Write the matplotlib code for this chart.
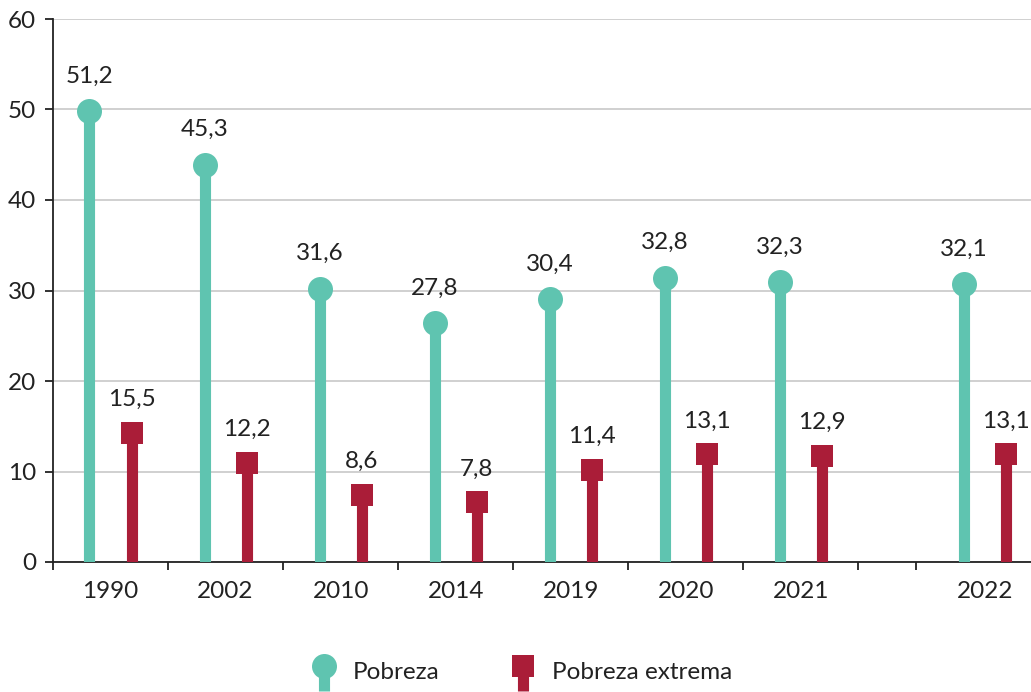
import matplotlib
matplotlib.use("Agg")
import matplotlib.pyplot as plt
import matplotlib.transforms as mtransforms
from matplotlib.lines import Line2D
from matplotlib.legend_handler import HandlerBase
import numpy as np

# data
years = ["1990", "2002", "2010", "2014", "2019", "2020", "2021", "2022"]
pobreza = [51.2, 45.3, 31.6, 27.8, 30.4, 32.8, 32.3, 32.1]
extrema = [15.5, 12.2, 8.6, 7.8, 11.4, 13.1, 12.9, 13.1]
# category centres (2022 sits after a small gap)
xpos = [0, 1, 2, 3, 4, 5, 6, 7.6]
bounds = [-0.5, 0.5, 1.5, 2.5, 3.5, 4.5, 5.5, 6.5, 7.0]

TEAL = "#5fc4b0"
RED = "#aa1d38"
TXT = "#222222"

plt.rcParams['font.family'] = ['Lato', 'DejaVu Sans']
plt.rcParams['font.size'] = 17.5

fig = plt.figure(figsize=(10.31, 6.92), dpi=100)
ax = fig.add_axes([53 / 1031, 1 - 562 / 692, 1 - 53 / 1031, (562 - 19) / 692])

ax.set_xlim(-0.5, 8.0)
ax.set_ylim(0, 60)
ax.set_yticks(range(0, 61, 10))
ax.yaxis.grid(True, color="#c8c8c8", lw=1.2)
ax.set_axisbelow(True)
for s in ["top", "right"]:
    ax.spines[s].set_visible(False)
for s in ["left", "bottom"]:
    ax.spines[s].set_color(TXT)
    ax.spines[s].set_linewidth(1.3)

ax.set_xticks(xpos)
ax.set_xticklabels(years)
ax.set_xticks(bounds, minor=True)
ax.tick_params(axis="x", which="major", length=0, pad=14, colors=TXT)
ax.tick_params(axis="x", which="minor", length=6, width=1.3, color=TXT)
ax.tick_params(axis="y", length=6, width=1.3, pad=6, colors=TXT)

dx = 0.183
r_circ = 9.0   # points, circle radius
r_sq = 7.9     # points, half square

tr_c = mtransforms.offset_copy(ax.transData, fig=fig, y=-r_circ, units="points")
tr_s = mtransforms.offset_copy(ax.transData, fig=fig, y=-r_sq, units="points")

xp = np.array(xpos) - dx
xe = np.array(xpos) + dx

ax.vlines(xp, 0, pobreza, colors=TEAL, lw=8, transform=tr_c, zorder=3)
ax.plot(xp, pobreza, "o", ms=2 * r_circ, color=TEAL, mew=0, transform=tr_c, zorder=4)
ax.vlines(xe, 0, extrema, colors=RED, lw=8, transform=tr_s, zorder=3)
ax.plot(xe, extrema, "s", ms=2 * r_sq, color=RED, mew=0, transform=tr_s, zorder=4)

for x, v in zip(xp, pobreza):
    ax.annotate(f"{v:.1f}".replace(".", ","), (x, v), xytext=(0, 11.5),
                textcoords="offset points", ha="center", va="baseline", color=TXT)
for x, v in zip(xe, extrema):
    ax.annotate(f"{v:.1f}".replace(".", ","), (x, v), xytext=(0, 11.5),
                textcoords="offset points", ha="center", va="baseline", color=TXT)


class Lollipop(HandlerBase):
    def __init__(self, marker, color, size):
        super().__init__()
        self.marker = marker
        self.color = color
        self.size = size

    def create_artists(self, legend, orig_handle, xdescent, ydescent,
                       width, height, fontsize, trans):
        cx = width / 2 - xdescent
        cy = height / 2 - ydescent + 3
        stem = Line2D([cx, cx], [cy, cy - 18], color=self.color, lw=8,
                      solid_capstyle="butt", transform=trans)
        head = Line2D([cx], [cy], marker=self.marker, ms=self.size,
                      color=self.color, mew=0, ls="", transform=trans)
        return [stem, head]


h1 = Line2D([], [], color=TEAL)
h2 = Line2D([], [], color=RED)
leg = fig.legend([h1, h2], ["Pobreza", "Pobreza extrema"],
                 handler_map={h1: Lollipop("o", TEAL, 2 * r_circ),
                              h2: Lollipop("s", RED, 2 * r_sq)},
                 loc="center", bbox_to_anchor=(0.505, 1 - 672 / 692),
                 ncol=2, frameon=False, handlelength=1.2, handletextpad=0.6,
                 columnspacing=2.8, labelcolor=TXT)

fig.savefig("out.png", dpi=100)
